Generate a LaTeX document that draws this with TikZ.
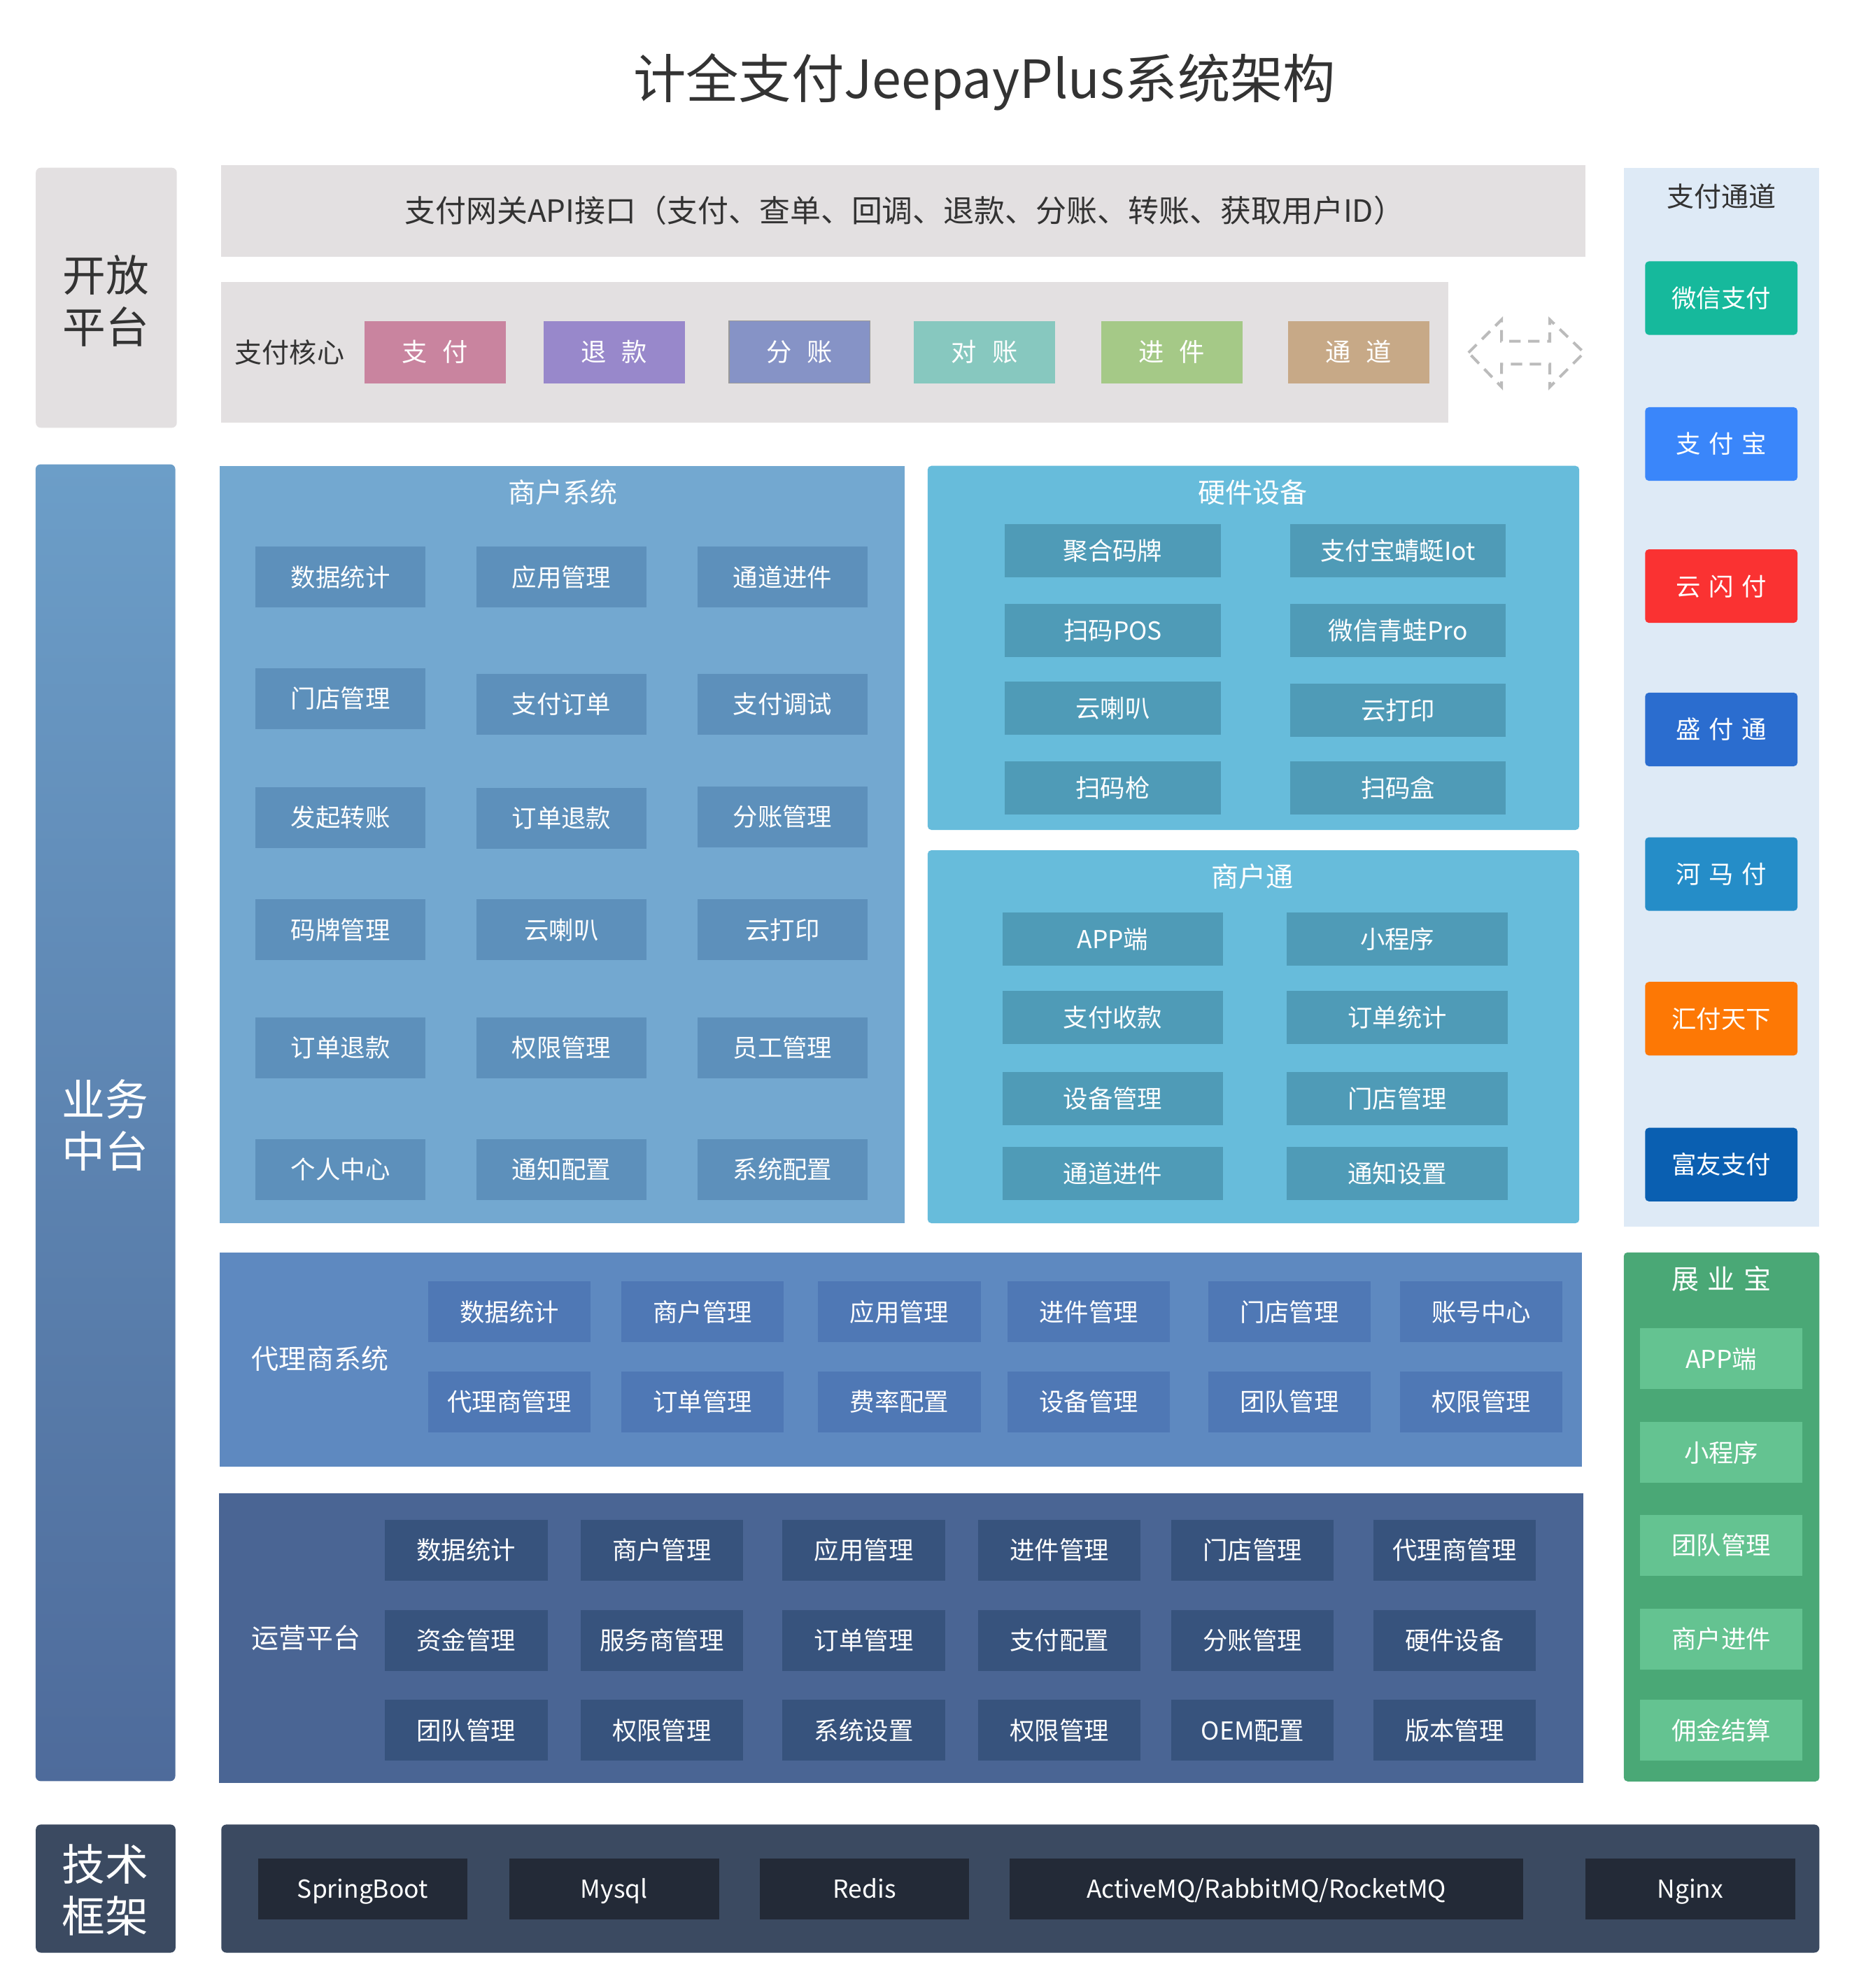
\documentclass[tikz,border=0pt]{standalone}
\usepackage{fontspec}
\setmainfont{Noto Sans CJK SC}
\newcommand\fsz[1]{\fontsize{#1pt}{#1pt}\selectfont}
\newcommand\sg{\hspace{0.32em}}
\newcommand\wg{\hspace{0.6em}}
\definecolor{txt}{HTML}{333333}
\definecolor{lgray}{HTML}{E3E0E1}
\definecolor{chbg}{HTML}{DEEAF6}
\definecolor{cpink}{HTML}{C9849F}
\definecolor{cpurple}{HTML}{9888CB}
\definecolor{cslate}{HTML}{8693C6}
\definecolor{cteal}{HTML}{87C8BF}
\definecolor{cgreen}{HTML}{A5C987}
\definecolor{ctan}{HTML}{C7A987}
\definecolor{wx}{HTML}{16B99C}
\definecolor{ali}{HTML}{3A86FA}
\definecolor{ysf}{HTML}{FA3232}
\definecolor{sft}{HTML}{2B6DCF}
\definecolor{hmf}{HTML}{258DC8}
\definecolor{hftx}{HTML}{FD7805}
\definecolor{fy}{HTML}{0A5FB1}
\definecolor{mpanel}{HTML}{73A8D0}
\definecolor{mbtnc}{HTML}{5D90BB}
\definecolor{hpanel}{HTML}{67BCDB}
\definecolor{hbtnc}{HTML}{4F9BB7}
\definecolor{apanel}{HTML}{5E89C0}
\definecolor{abtnc}{HTML}{4F78B5}
\definecolor{opanel}{HTML}{4A6594}
\definecolor{obtnc}{HTML}{37537D}
\definecolor{zpanel}{HTML}{4AA876}
\definecolor{zbtnc}{HTML}{64C391}
\definecolor{tpanel}{HTML}{3B4A61}
\definecolor{tbtnc}{HTML}{232A37}
\definecolor{gtop}{HTML}{6C9EC8}
\definecolor{gbot}{HTML}{4E6B9B}
\definecolor{arrowc}{HTML}{BBBBBB}
\begin{document}
\begin{tikzpicture}[x=1pt,y=-1pt,
  panel/.style={rectangle, draw=none, inner sep=0pt, anchor=north west},
  lbl/.style={inner sep=0pt},
  btn/.style={rectangle, draw=none, inner sep=0pt, text=white, font=\fsz{19.5}, text height=16.2pt, text depth=1.4pt},
  mb/.style={btn, fill=mbtnc, minimum width=134pt, minimum height=48pt},
  hb/.style={btn, fill=hbtnc, minimum width=170pt, minimum height=42pt},
  sb/.style={btn, fill=hbtnc, minimum width=174pt, minimum height=42pt},
  ab/.style={btn, fill=abtnc, minimum width=128pt, minimum height=48pt},
  ob/.style={btn, fill=obtnc, minimum width=128pt, minimum height=48pt},
  zb/.style={btn, fill=zbtnc, minimum width=128pt, minimum height=48pt},
  tb/.style={btn, fill=tbtnc, minimum height=48pt},
  cb/.style={btn, minimum width=111pt, minimum height=49pt, font=\fsz{20}, text height=16.6pt, text depth=1.4pt},
  chb/.style={btn, rounded corners=3pt, minimum width=120pt, minimum height=58pt},
  ptitle/.style={lbl, text=white, font=\fsz{21.5}, text height=17.8pt, text depth=1.5pt},
  side/.style={panel, rounded corners=4pt},
  sidet/.style={inner sep=0pt, align=center, font=\fontsize{34pt}{41pt}\selectfont}
]
\useasboundingbox (0,0) rectangle (1464,1571.3);
\fill[white] (0,0) rectangle (1464,1571.3);

\begin{scope}[xscale=1.0042, yscale=1.0027, transform shape]
% title
\node[lbl, text=txt, font=\fsz{41.5}, text height=34.4pt, text depth=2.9pt] (title) at (775,62) {计全支付JeepayPlus系统架构};

% left side labels
\node[side, fill=lgray, minimum width=111pt, minimum height=205pt] (open) at (28,132) {};
\node[sidet, text=txt] (openT) at (83.5,237) {开放\\平台};
\shade[top color=gtop, bottom color=gbot, rounded corners=4pt] (28,366) rectangle (138,1404);
\node[panel, minimum width=110pt, minimum height=1038pt] (biz) at (28,366) {};
\node[sidet, text=white] (bizT) at (83,887) {业务\\中台};
\node[side, fill=tpanel, minimum width=110pt, minimum height=101pt] (tech) at (28,1438) {};
\node[sidet, text=white] (techT) at (83,1490) {技术\\框架};

% open platform
\node[panel, fill=lgray, minimum width=1074pt, minimum height=72pt] (api) at (174,130) {};
\node[lbl, text=txt, font=\fsz{24.2}, text height=20pt, text depth=1.7pt] (apiT) at (712,166) {支付网关API接口（支付、查单、回调、退款、分账、转账、获取用户ID）};
\node[panel, fill=lgray, minimum width=966pt, minimum height=111pt] (core) at (174,222) {};
\node[ptitle, text=txt] (coreT) at (228,278) {支付核心};
\node[cb, fill=cpink] (c1) at (342.5,277.5) {支\wg 付};
\node[cb, fill=cpurple] (c2) at (483.5,277.5) {退\wg 款};
\node[cb, fill=cslate, draw=gray!80, line width=0.8pt] (c3) at (629.5,277.5) {分\wg 账};
\node[cb, fill=cteal] (c4) at (775,277.5) {对\wg 账};
\node[cb, fill=cgreen] (c5) at (922.5,277.5) {进\wg 件};
\node[cb, fill=ctan] (c6) at (1069.5,277.5) {通\wg 道};

% dashed double arrow
\draw[arrowc, line width=2.2pt, dash pattern=on 9pt off 6pt]
  (1156,278) -- (1182,252) -- (1182,269) -- (1220,269) -- (1220,252) -- (1247,278)
  -- (1220,305) -- (1220,287) -- (1182,287) -- (1182,305) -- cycle;

% payment channels
\node[panel, fill=chbg, minimum width=154pt, minimum height=835pt] (chan) at (1278,132) {};
\node[ptitle, text=txt] (chanT) at (1355,155) {支付通道};
\node[chb, fill=wx] (ch1) at (1355,235) {微信支付};
\node[chb, fill=ali] (ch2) at (1355,350) {支\sg 付\sg 宝};
\node[chb, fill=ysf] (ch3) at (1355,462) {云\sg 闪\sg 付};
\node[chb, fill=sft] (ch4) at (1355,575) {盛\sg 付\sg 通};
\node[chb, fill=hmf] (ch5) at (1355,689) {河\sg 马\sg 付};
\node[chb, fill=hftx] (ch6) at (1355,803) {汇付天下};
\node[chb, fill=fy] (ch7) at (1355,918) {富友支付};

% merchant system
\node[panel, fill=mpanel, minimum width=539pt, minimum height=597pt] (merch) at (173,367) {};
\node[ptitle] (merchT) at (443,388) {商户系统};
\node[mb] (m11) at (268,455) {数据统计};
\node[mb] (m12) at (442,455) {应用管理};
\node[mb] (m13) at (616,455) {通道进件};
\node[mb] (m21) at (268,550.5) {门店管理};
\node[mb] (m22) at (442,555) {支付订单};
\node[mb] (m23) at (616,555) {支付调试};
\node[mb] (m31) at (268,644.5) {发起转账};
\node[mb] (m32) at (442,645) {订单退款};
\node[mb] (m33) at (616,644) {分账管理};
\node[mb] (m41) at (268,733) {码牌管理};
\node[mb] (m42) at (442,733) {云喇叭};
\node[mb] (m43) at (616,733) {云打印};
\node[mb] (m51) at (268,826) {订单退款};
\node[mb] (m52) at (442,826) {权限管理};
\node[mb] (m53) at (616,826) {员工管理};
\node[mb] (m61) at (268,922) {个人中心};
\node[mb] (m62) at (442,922) {通知配置};
\node[mb] (m63) at (616,922) {系统配置};

% hardware
\node[panel, fill=hpanel, rounded corners=3pt, minimum width=513pt, minimum height=287pt] (hw) at (730,367) {};
\node[ptitle] (hwT) at (986,388) {硬件设备};
\node[hb] (h11) at (876,434) {聚合码牌};
\node[hb] (h12) at (1100.5,434) {支付宝蜻蜓Iot};
\node[hb] (h21) at (876,497) {扫码POS};
\node[hb] (h22) at (1100.5,497) {微信青蛙Pro};
\node[hb] (h31) at (876,558) {云喇叭};
\node[hb] (h32) at (1100.5,560) {云打印};
\node[hb] (h41) at (876,621) {扫码枪};
\node[hb] (h42) at (1100.5,621) {扫码盒};

% merchant app
\node[panel, fill=hpanel, rounded corners=3pt, minimum width=513pt, minimum height=294pt] (mt) at (730,670) {};
\node[ptitle] (mtT) at (986,691) {商户通};
\node[sb] (s11) at (876,740) {APP端};
\node[sb] (s12) at (1100,740) {小程序};
\node[sb] (s21) at (876,802) {支付收款};
\node[sb] (s22) at (1100,802) {订单统计};
\node[sb] (s31) at (876,866) {设备管理};
\node[sb] (s32) at (1100,866) {门店管理};
\node[sb] (s41) at (876,925) {通道进件};
\node[sb] (s42) at (1100,925) {通知设置};

% agent system
\node[panel, fill=apanel, minimum width=1072pt, minimum height=169pt] (agent) at (173,987) {};
\node[ptitle] (agentT) at (252,1071) {代理商系统};
\node[ab] (a11) at (401,1034) {数据统计};
\node[ab] (a12) at (553,1034) {商户管理};
\node[ab] (a13) at (708,1034) {应用管理};
\node[ab] (a14) at (857,1034) {进件管理};
\node[ab] (a15) at (1015,1034) {门店管理};
\node[ab] (a16) at (1166,1034) {账号中心};
\node[ab] (a21) at (401,1105) {代理商管理};
\node[ab] (a22) at (553,1105) {订单管理};
\node[ab] (a23) at (708,1105) {费率配置};
\node[ab] (a24) at (857,1105) {设备管理};
\node[ab] (a25) at (1015,1105) {团队管理};
\node[ab] (a26) at (1166,1105) {权限管理};

% operation platform
\node[panel, fill=opanel, minimum width=1074pt, minimum height=228pt] (ops) at (172,1177) {};
\node[ptitle] (opsT) at (241,1291) {运营平台};
\node[ob] (o11) at (367,1222) {数据统计};
\node[ob] (o12) at (521,1222) {商户管理};
\node[ob] (o13) at (680,1222) {应用管理};
\node[ob] (o14) at (834,1222) {进件管理};
\node[ob] (o15) at (986,1222) {门店管理};
\node[ob] (o16) at (1145,1222) {代理商管理};
\node[ob] (o21) at (367,1293) {资金管理};
\node[ob] (o22) at (521,1293) {服务商管理};
\node[ob] (o23) at (680,1293) {订单管理};
\node[ob] (o24) at (834,1293) {支付配置};
\node[ob] (o25) at (986,1293) {分账管理};
\node[ob] (o26) at (1145,1293) {硬件设备};
\node[ob] (o31) at (367,1364) {团队管理};
\node[ob] (o32) at (521,1364) {权限管理};
\node[ob] (o33) at (680,1364) {系统设置};
\node[ob] (o34) at (834,1364) {权限管理};
\node[ob] (o35) at (986,1364) {OEM配置};
\node[ob] (o36) at (1145,1364) {版本管理};

% zhanyebao
\node[panel, fill=zpanel, rounded corners=3pt, minimum width=154pt, minimum height=417pt] (zy) at (1278,987) {};
\node[ptitle] (zyT) at (1355,1008) {展\sg 业\sg 宝};
\node[zb] (z1) at (1355,1071) {APP端};
\node[zb] (z2) at (1355,1145) {小程序};
\node[zb] (z3) at (1355,1218) {团队管理};
\node[zb] (z4) at (1355,1292) {商户进件};
\node[zb] (z5) at (1355,1364) {佣金结算};

% tech stack
\node[panel, fill=tpanel, rounded corners=4pt, minimum width=1258pt, minimum height=101pt] (tp) at (174,1438) {};
\node[tb, minimum width=165pt] (t1) at (285.5,1489) {SpringBoot};
\node[tb, minimum width=165pt] (t2) at (483.5,1489) {Mysql};
\node[tb, minimum width=165pt] (t3) at (680.5,1489) {Redis};
\node[tb, minimum width=404pt] (t4) at (997,1489) {ActiveMQ/RabbitMQ/RocketMQ};
\node[tb, minimum width=165pt] (t5) at (1330.5,1489) {Nginx};
\end{scope}
\end{tikzpicture}
\end{document}
